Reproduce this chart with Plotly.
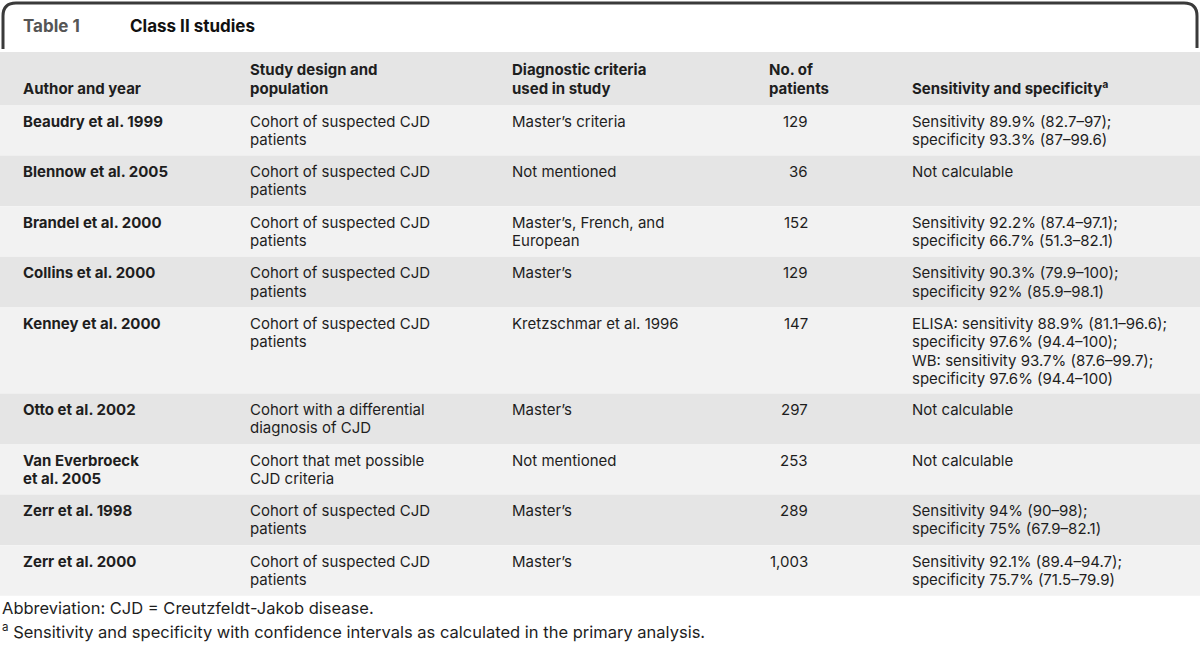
import plotly.graph_objects as go

# ---------------- data ----------------
title_label = "Table 1"
title_text = "Class II studies"
headers = ["Author and year", "Study design and<br>population", "Diagnostic criteria<br>used in study",
           "No. of<br>patients", "Sensitivity and specificity<sup>a</sup>"]
authors = ["Beaudry et al. 1999", "Blennow et al. 2005", "Brandel et al. 2000", "Collins et al. 2000",
           "Kenney et al. 2000", "Otto et al. 2002", "Van Everbroeck<br>et al. 2005", "Zerr et al. 1998",
           "Zerr et al. 2000"]
designs = ["Cohort of suspected CJD<br>patients", "Cohort of suspected CJD<br>patients",
           "Cohort of suspected CJD<br>patients", "Cohort of suspected CJD<br>patients",
           "Cohort of suspected CJD<br>patients", "Cohort with a differential<br>diagnosis of CJD",
           "Cohort that met possible<br>CJD criteria", "Cohort of suspected CJD<br>patients",
           "Cohort of suspected CJD<br>patients"]
criteria = ["Master\u2019s criteria", "Not mentioned", "Master\u2019s, French, and<br>European", "Master\u2019s",
            "Kretzschmar et al. 1996", "Master\u2019s", "Not mentioned", "Master\u2019s", "Master\u2019s"]
patients = ["129", "36", "152", "129", "147", "297", "253", "289", "1,003"]
sens = ["Sensitivity 89.9% (82.7\u201397);<br>specificity 93.3% (87\u201399.6)",
        "Not calculable",
        "Sensitivity 92.2% (87.4\u201397.1);<br>specificity 66.7% (51.3\u201382.1)",
        "Sensitivity 90.3% (79.9\u2013100);<br>specificity 92% (85.9\u201398.1)",
        "ELISA: sensitivity 88.9% (81.1\u201396.6);<br>specificity 97.6% (94.4\u2013100);<br>"
        "WB: sensitivity 93.7% (87.6\u201399.7);<br>specificity 97.6% (94.4\u2013100)",
        "Not calculable", "Not calculable",
        "Sensitivity 94% (90\u201398);<br>specificity 75% (67.9\u201382.1)",
        "Sensitivity 92.1% (89.4\u201394.7);<br>specificity 75.7% (71.5\u201379.9)"]
footnotes = ["Abbreviation: CJD = Creutzfeldt-Jakob disease.",
             "<sup>a</sup> Sensitivity and specificity with confidence intervals as calculated in the primary analysis."]

# ---------------- styling ----------------
W, H = 1200, 653
FONT = "Inter"
TXT = "#1e1e1e"
LIGHT = "#f2f2f2"
DARK = "#e5e5e5"
col_x = [21, 248, 510, 810, 910]
hdr_x = [21, 248, 510, 767, 910]
col_align = ["left", "left", "left", "right", "left"]
header_top, header_bot = 52, 105
header_last_line = 88
base_h, line_h = 15.2, 17.7
text_step = 18.3
first_offset = 16
FS = 15

fig = go.Figure()
shapes = []
ann = []


def add_lines(x, y0, text, anchor, bold=False, size=FS, color=TXT):
    for j, line in enumerate(text.split("<br>")):
        t = "<b>" + line + "</b>" if bold else line
        ann.append(dict(x=x, y=y0 + j * text_step, text=t, xanchor=anchor, yanchor="middle",
                        font=dict(family=FONT, size=size, color=color)))


# tab border
shapes.append(dict(type="path", xref="x", yref="y",
                   path="M 3 49 L 3 16 Q 3 3 16 3 L 1184 3 Q 1197 3 1197 16 L 1197 48",
                   line=dict(color="#3a3a3a", width=3)))
ann.append(dict(x=21, y=26, text="<b>" + title_label + "</b>", xanchor="left", yanchor="middle",
                font=dict(family=FONT, size=17, color="#555555")))
ann.append(dict(x=128, y=26, text="<b>" + title_text + "</b>", xanchor="left", yanchor="middle",
                font=dict(family=FONT, size=17, color="#111111")))

# header
shapes.append(dict(type="rect", xref="x", yref="y", x0=0, x1=W, y0=header_top, y1=header_bot,
                   fillcolor=DARK, line=dict(width=0), layer="below"))
for i, h in enumerate(headers):
    n = h.count("<br>")
    add_lines(hdr_x[i], header_last_line - n * text_step, h, "left", bold=True)

# body rows
y = header_bot
for r in range(len(authors)):
    cells = [authors[r], designs[r], criteria[r], patients[r], sens[r]]
    nlines = max(2, max(c.count("<br>") + 1 for c in cells))
    rh = base_h + line_h * nlines
    shapes.append(dict(type="rect", xref="x", yref="y", x0=0, x1=W, y0=y, y1=y + rh,
                       fillcolor=LIGHT if r % 2 == 0 else DARK, line=dict(width=0), layer="below"))
    for i, c in enumerate(cells):
        add_lines(col_x[i], y + first_offset, c, "right" if col_align[i] == "right" else "left",
                  bold=(i == 0))
    y += rh

# footnotes
for k, f in enumerate(footnotes):
    ann.append(dict(x=0, y=y + 12 + 23 * k, text=f, xanchor="left", yanchor="middle", align="left",
                    font=dict(family=FONT, size=16.5, color=TXT)))

for a in ann:
    a.update(xref="x", yref="y", showarrow=False)

fig.update_layout(width=W, height=H, margin=dict(l=0, r=0, t=0, b=0),
                  paper_bgcolor="white", plot_bgcolor="white",
                  xaxis=dict(range=[0, W], visible=False, fixedrange=True),
                  yaxis=dict(range=[H, 0], visible=False, fixedrange=True),
                  shapes=shapes, annotations=ann, showlegend=False)
fig.write_html("out.html", config={"displayModeBar": False},
               post_script="document.body.style.margin='0';document.body.style.padding='0';"
                           "document.documentElement.style.overflow='hidden';")
